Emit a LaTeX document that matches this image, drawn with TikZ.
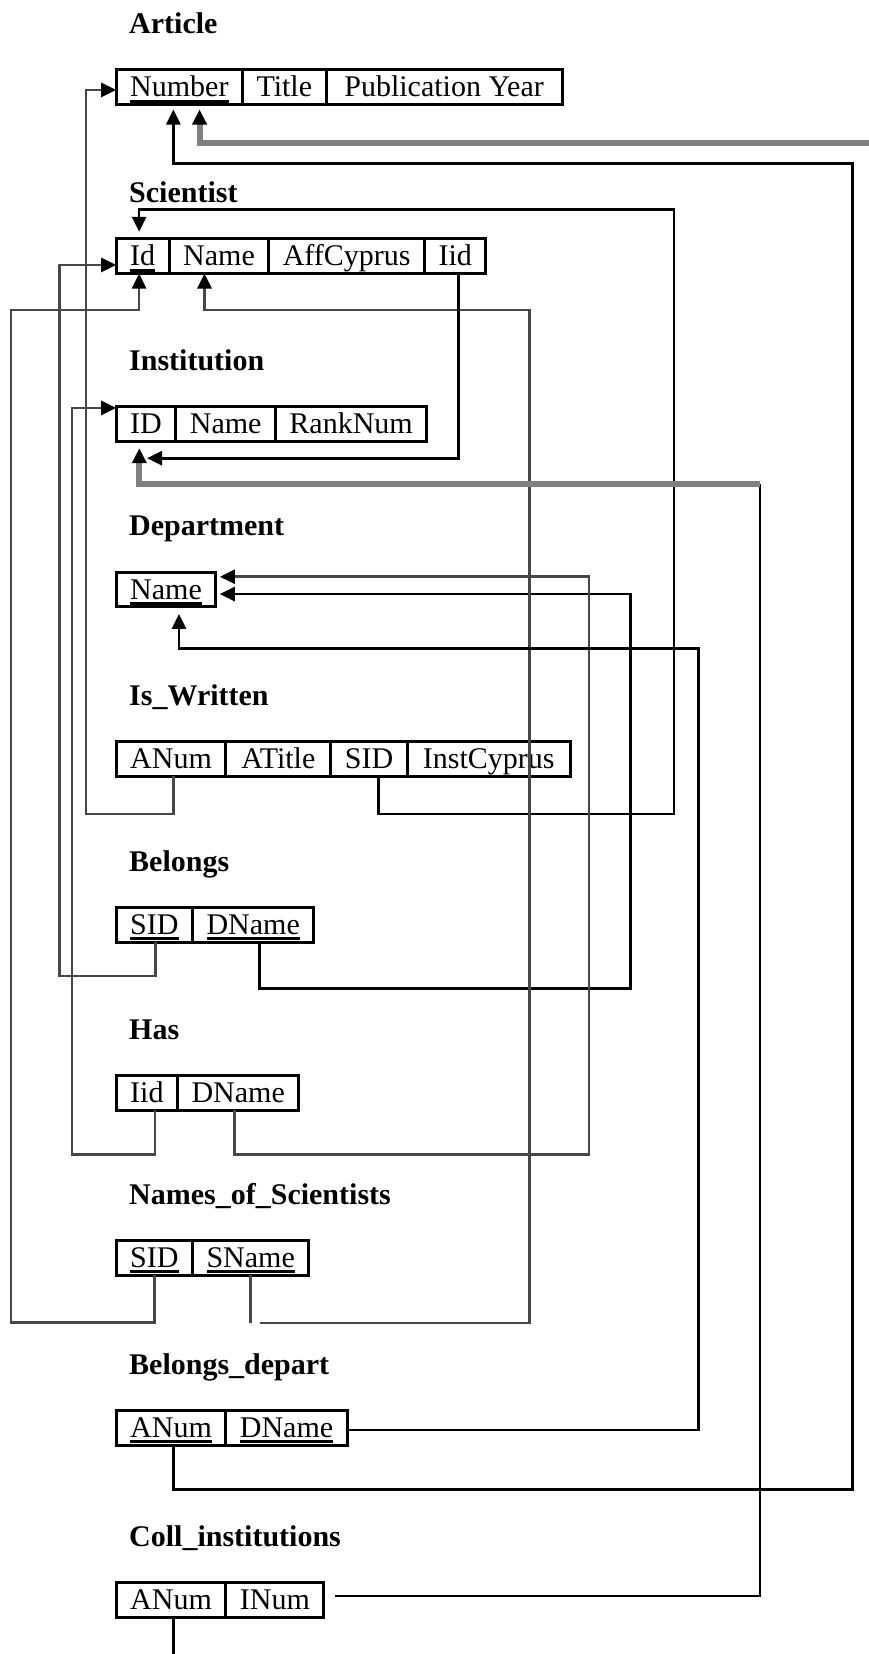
\documentclass[tikz,border=0pt]{standalone}
\usepackage{fontspec}
\setmainfont{Liberation Serif}
\usetikzlibrary{positioning, arrows.meta}

\tikzset{
  attr/.style={draw, line width=3pt, outer sep=0pt, inner xsep=14pt, inner ysep=2.85pt,
    text height=24pt, text depth=5pt, font=\fontsize{30pt}{36pt}\selectfont},
  relname/.style={anchor=base west, inner sep=0pt, font=\fontsize{30pt}{36pt}\selectfont\bfseries},
  link/.style={draw=black, line width=2.7pt, -{Triangle[length=15pt,width=14pt,color=black]}},
  darklink/.style={link, draw=black!72},
  graylink/.style={link, draw=black!50, line width=6pt},
}
\newcommand{\pkey}[1]{\setbox0\hbox{#1}\rlap{\rule[-6pt]{\wd0}{3pt}}\box0}

\begin{document}
\begin{tikzpicture}[x=1pt, y=-1pt]
\useasboundingbox (0,0) rectangle (869,1654);
\clip (0,0) rectangle (869,1654);

\node[relname] (tArt) at (129,33.3) {Article};
\node[attr, anchor=north west] (artN) at (116.2,69.8) {\pkey{Number}};
\node[attr, right=0pt of artN] (artT) {Title};
\node[attr, right=0pt of artT, minimum width=236pt] (artP) {Publication Year};

\node[relname] (tSc) at (129,202.3) {Scientist};
\node[attr, anchor=north west] (scId) at (116.2,238.8) {\pkey{Id}};
\node[attr, right=0pt of scId] (scN) {Name};
\node[attr, right=0pt of scN] (scA) {AffCyprus};
\node[attr, right=0pt of scA] (scIid) {Iid};

\node[relname] (tIn) at (129,370) {Institution};
\node[attr, anchor=north west] (inID) at (116.2,406.5) {ID};
\node[attr, right=0pt of inID] (inN) {Name};
\node[attr, right=0pt of inN] (inR) {RankNum};

\node[relname] (tDp) at (129,535.7) {Department};
\node[attr, anchor=north west] (dpN) at (116.2,572.2) {\pkey{Name}};

\node[relname] (tIw) at (129,705) {Is\_Written};
\node[attr, anchor=north west] (iwA) at (116.2,741.5) {ANum};
\node[attr, right=0pt of iwA, minimum width=105pt] (iwT) {ATitle};
\node[attr, right=0pt of iwT] (iwS) {SID};
\node[attr, right=0pt of iwS, minimum width=163pt] (iwC) {InstCyprus};

\node[relname] (tBl) at (129,871) {Belongs};
\node[attr, anchor=north west] (blS) at (116.2,907.5) {\pkey{SID}};
\node[attr, right=0pt of blS] (blD) {\pkey{DName}};

\node[relname] (tHs) at (129,1039) {Has};
\node[attr, anchor=north west] (hsI) at (116.2,1075.5) {Iid};
\node[attr, right=0pt of hsI] (hsD) {DName};

\node[relname] (tNs) at (129,1204) {Names\_of\_Scientists};
\node[attr, anchor=north west] (nsS) at (116.2,1240.5) {\pkey{SID}};
\node[attr, right=0pt of nsS] (nsN) {\pkey{SName}};

\node[relname] (tBd) at (129,1374) {Belongs\_depart};
\node[attr, anchor=north west] (bdA) at (116.2,1410.5) {\pkey{ANum}};
\node[attr, right=0pt of bdA] (bdD) {\pkey{DName}};

\node[relname] (tCi) at (129,1546) {Coll\_institutions};
\node[attr, anchor=north west] (ciA) at (116.2,1582.5) {ANum};
\node[attr, right=0pt of ciA] (ciI) {INum};

\coordinate (offR) at (880,143.3);
\coordinate (offB) at (200,1700);

\draw[darklink] ([xshift=2.5pt]iwA.south) |- (86,814) |- ([yshift=-2.8pt]artN.west);
\draw[link] ([xshift=9.3pt]iwS.south) |- (674,814) -- (674,209.3) -| ([xshift=-3.6pt,yshift=7pt]scId.north);
\draw[darklink] ([xshift=1pt]blS.south) |- (59.3,976) |- ([yshift=-8.8pt]scId.west);
\draw[link] ([xshift=6pt]blD.south) |- (630.8,988.3) |- ([xshift=4pt,yshift=-4.5pt]dpN.east);
\draw[darklink] ([xshift=8pt]hsI.south) |- (72,1154.3) |- ([yshift=15.9pt]inID.west);
\draw[darklink] ([xshift=-3.7pt]hsD.south) |- (589,1154.3) |- ([xshift=4pt,yshift=12.8pt]dpN.east);
\draw[darklink] (nsS.south) |- (11,1322.7) -- (11,310) -| ([xshift=-3.6pt]scId.south);
\draw[darklink] (nsN.south) -- (nsN.south |- 0,1323) ++(8.8,0) -- (529.4,1323) -- (529.4,310) -| ([xshift=-14.5pt]scN.south);
\draw[link] ([xshift=3pt]scIid.south) |- ([xshift=1pt,yshift=-17pt]inID.south);
\draw[link, -] ([xshift=11.5pt,yshift=4pt]ciI.east) -| (760,484) coordinate (ciTurn);
\draw[graylink] (ciTurn) -| ([xshift=-6.7pt,yshift=-7pt]inID.south);
\draw[link] ([yshift=-2pt]bdD.east) -| (698.4,648.3) -| ([xshift=13pt,yshift=-7pt]dpN.south);
\draw[link] ([xshift=2.5pt]bdA.south) |- (852.5,1489.3) -- (852.5,163.3) -| ([xshift=-6pt,yshift=-5pt]artN.south);
\draw[graylink] (offR) -| ([xshift=20.2pt,yshift=-5pt]artN.south);
\draw[link, -] ([xshift=2.5pt]ciA.south) |- (offB);

\end{tikzpicture}
\end{document}
